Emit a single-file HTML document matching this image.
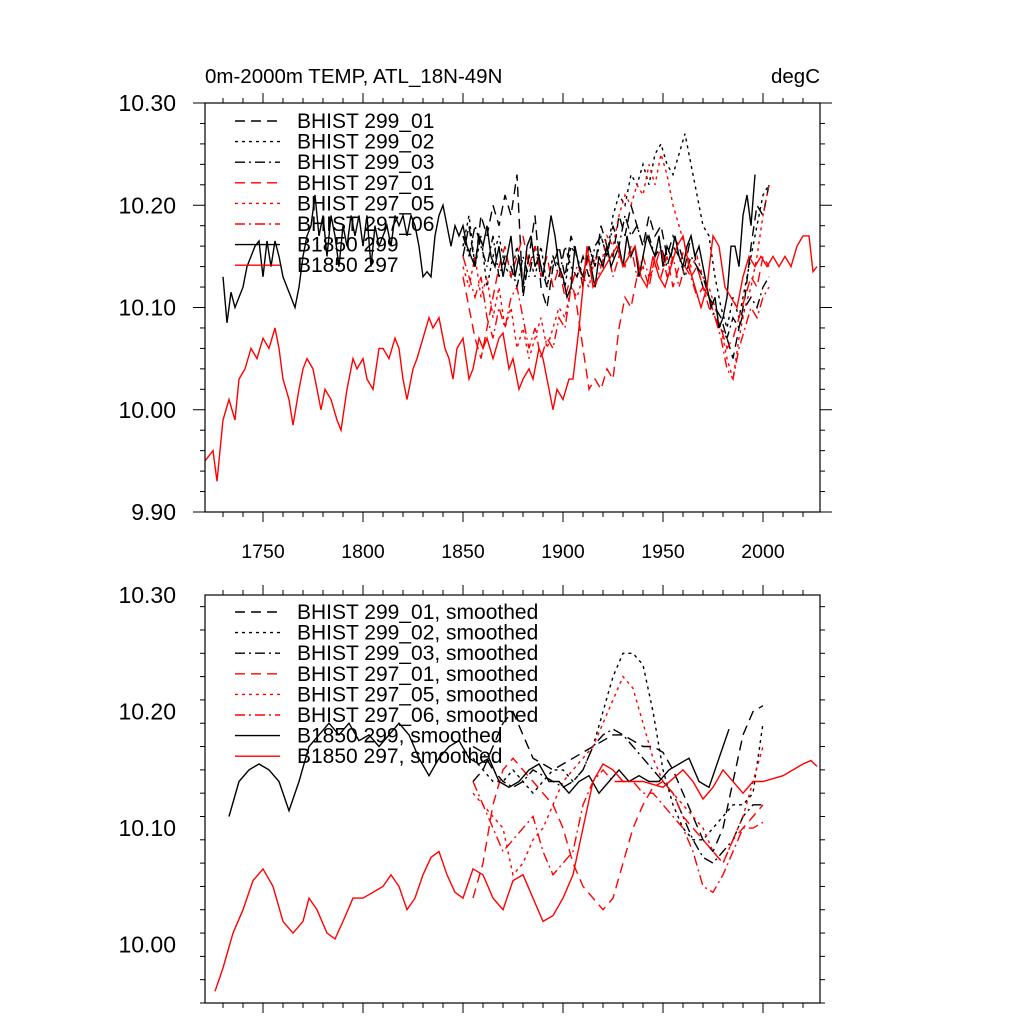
<!DOCTYPE html>
<html><head><meta charset="utf-8"><style>
body{margin:0;background:#fff;}
svg{display:block;font-family:"Liberation Sans",sans-serif;}
</style></head><body>
<svg id="chart" width="1024" height="1024" viewBox="0 0 1024 1024">
<text x="205" y="83" font-size="20.5">0m-2000m TEMP, ATL_18N-49N</text>
<text x="820" y="83" font-size="20.5" text-anchor="end">degC</text>
<g id="p1"></g>
<g id="p2"></g>
</svg>
<script>
// ---- data ----
const b1850_297_years=[1721,1725,1727,1730,1733,1736,1738,1741,1744,1747,1750,1753,1756,1758,1760,1763,1765,1768,1770,1772,1775,1777,1779,1781,1784,1787,1789,1792,1795,1797,1800,1802,1805,1808,1810,1813,1816,1818,1820,1822,1825,1827,1830,1833,1835,1838,1841,1843,1845,1847,1850,1853,1855,1858,1860,1862,1865,1868,1870,1873,1875,1878,1880,1883,1885,1888,1890,1893,1895,1897,1900,1903,1905,1908,1912,1915,1918,1921,1924,1927,1930,1933,1936,1939,1942,1945,1948,1951,1954,1957,1960,1963,1966,1969,1972,1975,1978,1981,1984,1987,1990,1993,1996,1999,2002,2005,2008,2011,2014,2017,2020,2023,2025,2027];
const b1850_297_vals=[9.95,9.96,9.93,9.99,10.01,9.99,10.03,10.04,10.06,10.05,10.07,10.06,10.08,10.06,10.03,10.01,9.985,10.02,10.04,10.05,10.04,10.02,10.00,10.02,10.01,9.99,9.98,10.02,10.05,10.04,10.05,10.03,10.02,10.06,10.06,10.05,10.07,10.06,10.03,10.01,10.04,10.05,10.07,10.09,10.08,10.09,10.06,10.05,10.03,10.06,10.07,10.03,10.04,10.07,10.06,10.07,10.05,10.07,10.075,10.04,10.05,10.02,10.03,10.04,10.03,10.06,10.05,10.02,10.00,10.02,10.01,10.03,10.03,10.08,10.16,10.12,10.13,10.14,10.15,10.16,10.14,10.15,10.16,10.13,10.12,10.15,10.13,10.12,10.14,10.16,10.17,10.14,10.12,10.10,10.12,10.17,10.16,10.12,10.11,10.10,10.13,10.15,10.14,10.15,10.14,10.15,10.14,10.15,10.14,10.16,10.17,10.17,10.135,10.14];
const b1850_299_start=1730, b1850_299_step=2;
const b1850_299_vals=[10.13,10.085,10.115,10.10,10.11,10.12,10.14,10.15,10.16,10.165,10.13,10.165,10.14,10.165,10.15,10.13,10.12,10.11,10.10,10.12,10.15,10.17,10.18,10.21,10.17,10.19,10.15,10.19,10.17,10.14,10.18,10.16,10.19,10.17,10.19,10.16,10.19,10.14,10.18,10.16,10.17,10.18,10.16,10.19,10.18,10.19,10.17,10.19,10.18,10.16,10.13,10.135,10.13,10.17,10.19,10.20,10.18,10.16,10.18,10.17,10.18,10.16,10.15,10.14,10.17,10.16,10.18,10.15,10.14,10.16,10.13,10.15,10.17,10.13,10.15,10.12,10.16,10.17,10.14,10.15,10.13,10.16,10.19,10.17,10.14,10.13,10.11,10.12,10.16,10.14,10.13,10.15,10.14,10.12,10.15,10.14,10.16,10.14,10.15,10.16,10.14,10.17,10.15,10.16,10.13,10.15,10.17,10.16,10.15,10.17,10.14,10.16,10.15,10.17,10.15,10.14,10.16,10.17,10.15,10.16,10.14,10.12,10.10,10.11,10.08,10.09,10.11,10.16,10.16,10.14,10.19,10.21,10.18,10.23];
const bhist_start=1850, bhist_step=3;
const h299_01=[10.15,10.18,10.14,10.19,10.17,10.20,10.18,10.21,10.19,10.23, 10.11,10.15,10.19,10.12,10.10,10.14,10.16,10.13,10.17,10.15, 10.12,10.16,10.14,10.18,10.16,10.15,10.19,10.17,10.20,10.18, 10.16,10.19,10.17,10.18,10.15,10.17,10.16,10.14,10.17,10.14, 10.13,10.11,10.10,10.09,10.07,10.05,10.08,10.11,10.16,10.20, 10.19,10.22];
const h299_02=[10.16,10.19,10.14,10.17,10.12,10.15,10.17,10.14,10.13,10.16, 10.12,10.15,10.13,10.16,10.12,10.15,10.14,10.12,10.16,10.15, 10.13,10.16,10.14,10.17,10.15,10.19,10.21,10.20,10.23,10.22, 10.24,10.22,10.25,10.26,10.24,10.23,10.25,10.27,10.24,10.21, 10.18,10.17,10.13,10.10,10.08,10.11,10.09,10.12,10.15,10.18, 10.21,10.22];
const h299_03=[10.17,10.15,10.18,10.16,10.14,10.17,10.13,10.15,10.14,10.12, 10.15,10.13,10.16,10.14,10.12,10.15,10.13,10.16,10.14,10.13, 10.15,10.13,10.16,10.17,10.15,10.18,10.16,10.19,10.17,10.18, 10.16,10.17,10.15,10.16,10.14,10.16,10.15,10.13,10.15,10.14, 10.12,10.11,10.09,10.08,10.07,10.09,10.08,10.10,10.11,10.10, 10.12,10.13];
const h297_01=[10.13,10.10,10.07,10.05,10.08,10.11,10.14,10.16,10.13,10.15, 10.17,10.14,10.16,10.13,10.15,10.12,10.14,10.11,10.13,10.10, 10.06,10.02,10.03,10.02,10.04,10.03,10.08,10.11,10.10,10.13, 10.14,10.12,10.15,10.13,10.15,10.12,10.14,10.16,10.13,10.14, 10.12,10.11,10.09,10.08,10.06,10.07,10.09,10.11,10.13,10.12, 10.15,10.14];
const h297_05=[10.14,10.12,10.15,10.11,10.13,10.09,10.12,10.08,10.10,10.06, 10.08,10.05,10.07,10.09,10.06,10.08,10.10,10.09,10.12,10.11, 10.13,10.12,10.15,10.14,10.17,10.16,10.19,10.21,10.20,10.22, 10.21,10.24,10.22,10.25,10.23,10.20,10.18,10.16,10.14,10.15, 10.13,10.12,10.10,10.08,10.05,10.03,10.07,10.10,10.12,10.15, 10.19,10.22];
const h297_06=[10.15,10.13,10.11,10.13,10.09,10.07,10.10,10.08,10.11,10.12, 10.09,10.06,10.08,10.05,10.07,10.06,10.09,10.08,10.12,10.14, 10.13,10.15,10.12,10.14,10.16,10.13,10.15,10.14,10.16,10.13, 10.15,10.13,10.14,10.16,10.13,10.15,10.12,10.14,10.13,10.11, 10.12,10.10,10.09,10.07,10.04,10.03,10.06,10.08,10.10,10.09, 10.11,10.12];
// smoothed
const s1850_297_years=[1726,1730,1735,1740,1745,1750,1755,1760,1765,1770,1773,1777,1782,1786,1790,1795,1800,1805,1810,1814,1818,1822,1826,1830,1834,1838,1842,1846,1850,1855,1860,1865,1870,1875,1880,1885,1890,1895,1900,1905,1910,1915,1920,1925,1930,1940,1950,1960,1965,1970,1975,1980,1985,1990,1995,2000,2010,2020,2024,2027];
const s1850_297_vals=[9.96,9.98,10.01,10.03,10.055,10.065,10.05,10.02,10.01,10.02,10.04,10.03,10.01,10.005,10.02,10.04,10.04,10.045,10.05,10.06,10.05,10.03,10.04,10.06,10.075,10.08,10.06,10.045,10.04,10.065,10.06,10.04,10.03,10.055,10.06,10.04,10.02,10.025,10.04,10.06,10.10,10.14,10.155,10.15,10.14,10.14,10.135,10.15,10.14,10.125,10.135,10.15,10.14,10.13,10.14,10.14,10.145,10.155,10.158,10.153];
const s1850_299_start=1733, s1850_299_step=5;
const s1850_299_vals=[10.11,10.14,10.15,10.155,10.15,10.14,10.115,10.14,10.17,10.18,10.19,10.18,10.19,10.175,10.18,10.17,10.18,10.19,10.18,10.16,10.145,10.16,10.17,10.175,10.16,10.155,10.16,10.14,10.135,10.14,10.15,10.155,10.14,10.14,10.13,10.14,10.145,10.13,10.14,10.15,10.14,10.145,10.14,10.14,10.15,10.155,10.16,10.14,10.135,10.16,10.185];
const sh_start=1855, sh_step=5;
const s299_01=[10.14,10.15,10.17,10.19,10.20,10.18,10.16,10.155,10.15,10.155,10.16,10.165,10.17,10.175,10.18,10.18,10.175,10.17,10.17,10.165,10.15,10.13,10.11,10.09,10.08,10.10,10.14,10.18,10.20,10.205];
const s299_02=[10.16,10.15,10.14,10.14,10.15,10.14,10.13,10.14,10.15,10.15,10.14,10.15,10.17,10.20,10.23,10.25,10.25,10.24,10.20,10.15,10.12,10.10,10.09,10.09,10.10,10.11,10.12,10.12,10.13,10.19];
const s299_03=[10.17,10.165,10.15,10.14,10.135,10.14,10.15,10.145,10.14,10.135,10.14,10.15,10.17,10.18,10.185,10.18,10.17,10.16,10.15,10.14,10.13,10.11,10.09,10.075,10.07,10.08,10.09,10.11,10.12,10.12];
const s297_01=[10.04,10.07,10.12,10.15,10.16,10.15,10.14,10.13,10.12,10.10,10.07,10.05,10.04,10.03,10.04,10.07,10.10,10.12,10.135,10.14,10.13,10.11,10.10,10.09,10.08,10.07,10.09,10.10,10.11,10.12];
const s297_05=[10.13,10.12,10.11,10.10,10.06,10.07,10.09,10.10,10.12,10.14,10.15,10.16,10.17,10.19,10.21,10.23,10.22,10.19,10.16,10.14,10.13,10.12,10.11,10.10,10.08,10.07,10.09,10.11,10.14,10.17];
const s297_06=[10.14,10.12,10.10,10.08,10.09,10.10,10.11,10.08,10.06,10.07,10.08,10.12,10.14,10.15,10.14,10.14,10.14,10.13,10.13,10.12,10.11,10.10,10.08,10.05,10.045,10.06,10.08,10.10,10.10,10.105];
const yTicks1=["9.90","10.00","10.10","10.20","10.30"];
const yTicks2=["10.00","10.10","10.20","10.30"];
const xTickLabels=["1750","1800","1850","1900","1950","2000"];
const legendTop=["BHIST 299_01","BHIST 299_02","BHIST 299_03","BHIST 297_01","BHIST 297_05","BHIST 297_06","B1850 299","B1850 297"];

// ---- drawing ----
const NS="http://www.w3.org/2000/svg";
const X0=205,X1=820,T0=1721,T1=2028.5;
const xs=t=>X0+(t-T0)/(T1-T0)*(X1-X0);
function mk(tag,attrs,parent){const e=document.createElementNS(NS,tag);for(const k in attrs)e.setAttribute(k,attrs[k]);parent.appendChild(e);return e;}
const styles=[["#000","10,6"],["#000","3,4"],["#000","10,4,2,4"],["#f00","10,6"],["#f00","3,4"],["#f00","10,4,2,4"],["#000",""],["#f00",""]];
function panel(g,top,bot,vmin,vmax,yTicks,showX,legendSuffix,legY0,series){
  const ys=v=>bot-(v-vmin)/(vmax-vmin)*(bot-top);
  const clip=mk('clipPath',{id:'c'+top},g);mk('rect',{x:X0,y:top,width:X1-X0,height:bot-top},clip);
  const sg=mk('g',{'clip-path':'url(#c'+top+')'},g);
  series.forEach((s,i)=>{
    const d=s.vals.map((v,k)=>(k?'L':'M')+xs(s.years(k)).toFixed(1)+','+ys(v).toFixed(1)).join('');
    const p=mk('path',{d:d,fill:'none',stroke:styles[i][0],'stroke-width':1.4,'stroke-dasharray':styles[i][1]},sg);
    
    
  });
  mk('rect',{x:X0,y:top,width:X1-X0,height:bot-top,fill:'none',stroke:'#000','stroke-width':1.2},g);
  for(let t=1730;t<=2020;t+=10){const x=xs(t),L=(t%50==0)?10:5;
    mk('line',{x1:x,x2:x,y1:top,y2:top-L,stroke:'#000'},g);mk('line',{x1:x,x2:x,y1:bot,y2:bot+L,stroke:'#000'},g);}
  for(let v=Math.round(vmin*100);v<=Math.round(vmax*100);v+=2){const y=ys(v/100),L=(v%10==0)?12:5;
    mk('line',{x1:X0,x2:X0-L,y1:y,y2:y,stroke:'#000'},g);mk('line',{x1:X1,x2:X1+L,y1:y,y2:y,stroke:'#000'},g);}
  yTicks.forEach(s=>{const t=mk('text',{x:176,y:ys(parseFloat(s))+8,'font-size':23,'text-anchor':'end'},g);t.textContent=s;
    
    });
  if(showX)xTickLabels.forEach(s=>{const t=mk('text',{x:xs(+s),y:bot+46,'font-size':19.5,'text-anchor':'middle'},g);t.textContent=s;
    
    });
  legendTop.forEach((n,i)=>{const y=legY0+i*20.6;
    const lg=mk('g',{},g);
    
    
    mk('line',{x1:235,x2:280,y1:y,y2:y,stroke:styles[i][0],'stroke-width':1.4,'stroke-dasharray':styles[i][1]},lg);
    const t=mk('text',{x:297,y:y+7,'font-size':21},lg);t.textContent=n+legendSuffix;});
}
const bh=a=>({vals:a,years:k=>bhist_start+k*bhist_step});
const sh=a=>({vals:a,years:k=>sh_start+k*sh_step});
panel(document.getElementById('p1'),103,512,9.90,10.30,yTicks1,true,'',121,[
  bh(h299_01),bh(h299_02),bh(h299_03),bh(h297_01),bh(h297_05),bh(h297_06),
  {vals:b1850_299_vals,years:k=>b1850_299_start+k*b1850_299_step},
  {vals:b1850_297_vals,years:k=>b1850_297_years[k]}]);
panel(document.getElementById('p2'),595,1003,9.95,10.30,yTicks2,false,', smoothed',612,[
  sh(s299_01),sh(s299_02),sh(s299_03),sh(s297_01),sh(s297_05),sh(s297_06),
  {vals:s1850_299_vals,years:k=>s1850_299_start+k*s1850_299_step},
  {vals:s1850_297_vals,years:k=>s1850_297_years[k]}]);
</script>
</body></html>
